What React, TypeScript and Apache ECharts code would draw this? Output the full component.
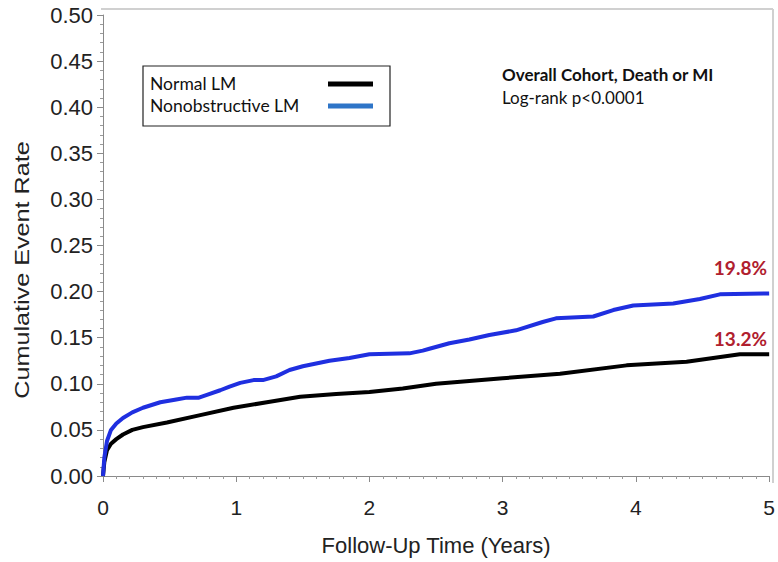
import React, { useEffect, useRef } from "react";
import * as echarts from "echarts";

const xTicks = [0, 1, 2, 3, 4, 5];
const yTicks = [0, 0.05, 0.1, 0.15, 0.2, 0.25, 0.3, 0.35, 0.4, 0.45, 0.5];

const seriesNames = ["Normal LM", "Nonobstructive LM"];

const normalYears = [0, 0.01, 0.03, 0.06, 0.1, 0.15, 0.22, 0.3, 0.48, 0.73, 0.98, 1.23, 1.48, 1.75, 2.0, 2.25, 2.5, 2.75, 3.0, 3.43, 3.93, 4.38, 4.78, 5.0];
const normalRate = [0, 0.015, 0.028, 0.035, 0.04, 0.045, 0.05, 0.053, 0.058, 0.066, 0.074, 0.08, 0.086, 0.089, 0.091, 0.095, 0.1, 0.103, 0.106, 0.111, 0.12, 0.124, 0.132, 0.132];

const nonobYears = [0, 0.01, 0.03, 0.06, 0.1, 0.15, 0.22, 0.3, 0.43, 0.55, 0.63, 0.72, 0.78, 0.88, 0.95, 1.03, 1.13, 1.2, 1.3, 1.4, 1.5, 1.6, 1.7, 1.85, 2.0, 2.3, 2.4, 2.45, 2.6, 2.75, 2.9, 3.1, 3.3, 3.4, 3.68, 3.83, 3.98, 4.28, 4.48, 4.63, 5.0];
const nonobRate = [0, 0.02, 0.038, 0.05, 0.057, 0.063, 0.069, 0.074, 0.08, 0.083, 0.085, 0.085, 0.088, 0.093, 0.097, 0.101, 0.104, 0.104, 0.108, 0.115, 0.119, 0.122, 0.125, 0.128, 0.132, 0.133, 0.136, 0.138, 0.144, 0.148, 0.153, 0.158, 0.167, 0.171, 0.173, 0.18, 0.185, 0.187, 0.192, 0.197, 0.198];

const finalPct = ["13.2%", "19.8%"];

const axisFont = "'Liberation Sans', Arial, sans-serif";
const noteFont = "Lato, 'Open Sans', sans-serif";

export default function App() {
  const ref = useRef<HTMLDivElement>(null);
  useEffect(() => {
    if (!ref.current) return;
    const chart = echarts.init(ref.current, undefined, { renderer: "svg" });
    const zip = (xs: number[], ys: number[]) => xs.map((x, i) => [x, ys[i]]);
    chart.setOption({
      animation: false,
      backgroundColor: "#ffffff",
      grid: { left: 103, right: 8.5, top: 15, bottom: 86 },
      xAxis: {
        type: "value",
        min: 0,
        max: 5,
        interval: 1,
        offset: 7,
        axisLine: { show: true, lineStyle: { color: "#8a8a8a", width: 1 } },
        axisTick: { show: true, length: 6, lineStyle: { color: "#8a8a8a" } },
        minorTick: { show: true, splitNumber: 10, length: 3, lineStyle: { color: "#9a9a9a" } },
        splitLine: { show: false },
        axisLabel: {
          fontSize: 21,
          color: "#222",
          fontFamily: axisFont,
          margin: 14,
          formatter: (v: number) => (xTicks.includes(v) ? String(v) : ""),
        },
        name: "Follow-Up Time (Years)",
        nameLocation: "middle",
        nameGap: 51,
        nameTextStyle: { fontSize: 22, color: "#222", fontFamily: axisFont },
      },
      yAxis: {
        type: "value",
        min: 0,
        max: 0.5,
        interval: 0.05,
        offset: 2,
        axisLine: { show: true, lineStyle: { color: "#8a8a8a", width: 1 } },
        axisTick: { show: true, length: 6, lineStyle: { color: "#8a8a8a" } },
        minorTick: { show: true, splitNumber: 5, length: 3, lineStyle: { color: "#9a9a9a" } },
        splitLine: { show: false },
        axisLabel: {
          fontSize: 22,
          color: "#222",
          fontFamily: axisFont,
          margin: 8,
          formatter: (v: number) => {
            const t = yTicks.find((y) => Math.abs(y - v) < 1e-9);
            return t === undefined ? "" : t.toFixed(2);
          },
        },
      },
      series: [
        {
          name: seriesNames[0],
          type: "line",
          data: zip(normalYears, normalRate),
          showSymbol: false,
          symbol: "none",
          lineStyle: { color: "#000000", width: 4 },
          z: 3,
        },
        {
          name: seriesNames[1],
          type: "line",
          data: zip(nonobYears, nonobRate),
          showSymbol: false,
          symbol: "none",
          lineStyle: { color: "#1f2fe0", width: 4 },
          z: 4,
        },
      ],
      graphic: [
        { type: "line", shape: { x1: 101, y1: 9, x2: 773, y2: 9 }, style: { stroke: "#d0d0d0", lineWidth: 2 } },
        { type: "line", shape: { x1: 773, y1: 9, x2: 773, y2: 483 }, style: { stroke: "#d0d0d0", lineWidth: 2 } },
        {
          type: "text",
          x: 22,
          y: 270,
          rotation: Math.PI / 2,
          scaleX: 1.2,
          style: {
            text: "Cumulative Event Rate",
            fontSize: 21,
            fontFamily: axisFont,
            fill: "#222",
            align: "center",
            verticalAlign: "middle",
          },
        },
        {
          type: "rect",
          shape: { x: 143, y: 66, width: 247, height: 60 },
          style: { fill: "#ffffff", stroke: "#222", lineWidth: 1.2 },
        },
        {
          type: "text",
          x: 150,
          y: 83,
          style: { text: seriesNames[0], fontSize: 17.5, fontFamily: noteFont, fill: "#111", verticalAlign: "middle" },
        },
        {
          type: "text",
          x: 150,
          y: 105,
          style: { text: seriesNames[1], fontSize: 17.5, fontFamily: noteFont, fill: "#111", verticalAlign: "middle" },
        },
        { type: "line", shape: { x1: 328, y1: 84, x2: 373, y2: 84 }, style: { stroke: "#000", lineWidth: 5 } },
        { type: "line", shape: { x1: 328, y1: 106, x2: 373, y2: 106 }, style: { stroke: "#2e75c8", lineWidth: 5 } },
        {
          type: "text",
          x: 502,
          y: 74,
          style: { text: "Overall Cohort, Death or MI", fontSize: 17, fontWeight: "bold", fontFamily: noteFont, fill: "#111", verticalAlign: "middle" },
        },
        {
          type: "text",
          x: 502,
          y: 97,
          style: { text: "Log-rank p<0.0001", fontSize: 17, fontFamily: noteFont, fill: "#111", verticalAlign: "middle" },
        },
        {
          type: "text",
          x: 767,
          y: 267,
          style: { text: finalPct[1], fontSize: 19, fontWeight: "bold", fontFamily: noteFont, fill: "#b0202e", align: "right", verticalAlign: "middle" },
        },
        {
          type: "text",
          x: 767,
          y: 338,
          style: { text: finalPct[0], fontSize: 19, fontWeight: "bold", fontFamily: noteFont, fill: "#b0202e", align: "right", verticalAlign: "middle" },
        },
      ],
    });
    return () => chart.dispose();
  }, []);
  return <div ref={ref} style={{ width: 778, height: 562, position: "absolute", left: 0, top: 0 }} />;
}
